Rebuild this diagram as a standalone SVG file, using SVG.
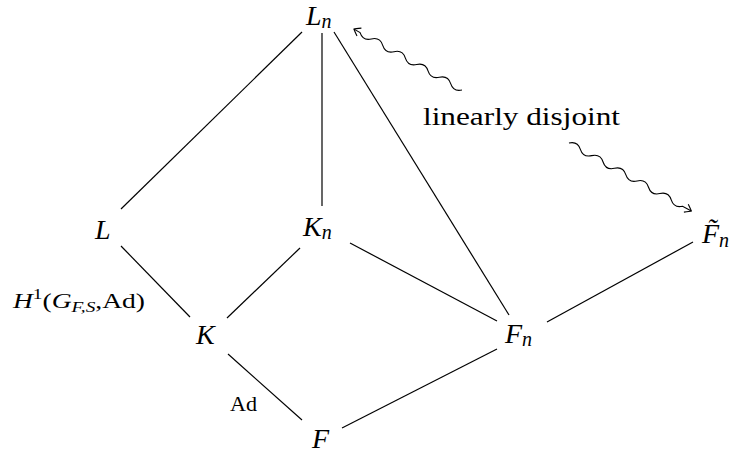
<svg xmlns="http://www.w3.org/2000/svg" width="733" height="456" viewBox="0 0 733 456">
<style>
.e{stroke:#000;stroke-width:1.2;fill:none}
.w{stroke:#000;stroke-width:1.1;fill:none}
.m{font-family:'Liberation Serif','DejaVu Serif',serif;font-style:italic;font-size:28px;fill:#000}
.s{font-size:20px}
.lab{font-family:'Liberation Serif','DejaVu Serif',serif;font-size:20px;fill:#000}
.txt{font-family:'Liberation Serif','DejaVu Serif',serif;font-size:26px;fill:#000}
</style>
<defs>
<marker id="to" markerUnits="userSpaceOnUse" markerWidth="12" markerHeight="12" refX="0" refY="0" viewBox="-8 -6 10 12" orient="auto">
<path d="M-6,-4.5 Q-1,-1 0,0 Q-1,1 -6,4.5" stroke="#000" stroke-width="1.1" fill="none"/>
</marker>
</defs>
<rect width="733" height="456" fill="#fff"/>
<g id="connectors">
<line class="e" x1="302" y1="32" x2="121" y2="209"/>
<line class="e" x1="322" y1="33" x2="322" y2="206"/>
<line class="e" x1="334" y1="32" x2="509" y2="315"/>
<line class="e" x1="121" y1="246" x2="190" y2="317"/>
<line class="e" x1="300" y1="248" x2="227" y2="318"/>
<line class="e" x1="350" y1="243" x2="497" y2="321"/>
<line class="e" x1="547" y1="322" x2="693" y2="242"/>
<line class="e" x1="228" y1="354" x2="302" y2="420"/>
<line class="e" x1="342" y1="428" x2="497" y2="349"/>
<path class="w" marker-end="url(#to)" transform="translate(462,90) rotate(209.4)" d="M0,0 q6.5,-6 13,0 t13,0 t13,0 t13,0 t13,0 t13,0 t13,0 t13,0 t13,0 l7,0"/>
<path class="w" marker-end="url(#to)" transform="translate(569,143) rotate(29.1)" d="M0,0 q6.5,-6 13,0 t13,0 t13,0 t13,0 t13,0 t13,0 t13,0 t13,0 t13,0 t13,0 l10,0"/>
</g>
<g id="Ln"><text class="m" x="306" y="25">L<tspan class="s" dy="3">n</tspan></text></g>
<g id="L"><text class="m" x="95" y="239">L</text></g>
<g id="Kn"><text class="m" x="303" y="236">K<tspan class="s" dy="3">n</tspan></text></g>
<g id="Ftn"><text class="m" x="702" y="243">F&#x303;<tspan class="s" dy="4">n</tspan></text></g>
<g id="K"><text class="m" x="196" y="344">K</text></g>
<g id="Fn"><text class="m" x="505" y="343">F<tspan class="s" dy="3">n</tspan></text></g>
<g id="F"><text class="m" x="312" y="448">F</text></g>
<g id="labels">
<text class="txt" x="423" y="125" textLength="197" lengthAdjust="spacingAndGlyphs">linearly disjoint</text>
<text class="lab" x="13" y="308" textLength="132" lengthAdjust="spacingAndGlyphs"><tspan font-style="italic">H</tspan><tspan font-size="14" dy="-9">1</tspan><tspan dy="9">(</tspan><tspan font-style="italic">G</tspan><tspan font-style="italic" font-size="14" dy="4">F,S</tspan><tspan dy="-4">,Ad)</tspan></text>
<text class="lab" x="230" y="411" textLength="27" lengthAdjust="spacingAndGlyphs">Ad</text>
</g>
</svg>
